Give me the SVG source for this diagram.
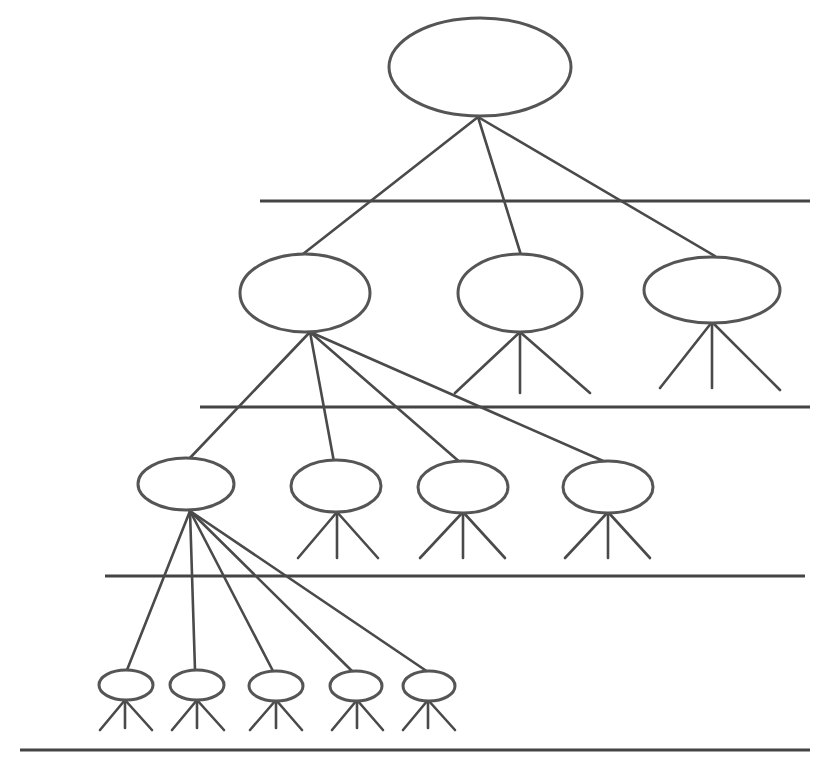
<svg xmlns="http://www.w3.org/2000/svg" width="835" height="757" viewBox="0 0 835 757">
<style>
.n{fill:#fff;stroke:#555;stroke-width:3}
.c line,.c polyline{stroke:#4a4a4a;stroke-width:2.6;fill:none;stroke-linecap:round;stroke-linejoin:round}
.lv{stroke:#444;stroke-width:3.2}
</style>
<rect width="835" height="757" fill="#fff"/>
<g id="levels">
<line class="lv" x1="260" y1="201" x2="810" y2="201"/>
<line class="lv" x1="200" y1="407" x2="810" y2="407"/>
<line class="lv" x1="105" y1="576" x2="805" y2="576"/>
<line class="lv" x1="20" y1="750" x2="810" y2="750"/>
</g>
<g class="c" id="connectors">
<line x1="478" y1="117" x2="303" y2="254"/>
<line x1="478" y1="117" x2="521" y2="255"/>
<line x1="478" y1="117" x2="715" y2="256"/>
<line x1="310" y1="332" x2="188" y2="460"/>
<line x1="310" y1="332" x2="334" y2="462"/>
<line x1="310" y1="332" x2="462" y2="464"/>
<line x1="310" y1="332" x2="610" y2="464"/>
<line x1="190" y1="511" x2="127" y2="670"/>
<line x1="190" y1="511" x2="195" y2="670"/>
<line x1="190" y1="511" x2="273" y2="671"/>
<line x1="190" y1="511" x2="353" y2="672"/>
<line x1="190" y1="511" x2="428" y2="672"/>
<polyline points="455,393 520,332 590,393"/><line x1="520" y1="332" x2="520" y2="393"/>
<polyline points="660,388 712,322 780,390"/><line x1="712" y1="322" x2="712" y2="388"/>
<polyline points="298,558 337,512 378,558"/><line x1="337" y1="512" x2="337" y2="558"/>
<polyline points="420,558 463,512 505,558"/><line x1="463" y1="512" x2="463" y2="558"/>
<polyline points="565,558 608,512 650,558"/><line x1="608" y1="512" x2="608" y2="558"/>
<polyline points="100,730 125,700 152,730"/><line x1="125" y1="700" x2="125" y2="728"/>
<polyline points="172,730 197,700 224,730"/><line x1="197" y1="700" x2="197" y2="728"/>
<polyline points="250,730 276,700 302,730"/><line x1="276" y1="700" x2="276" y2="728"/>
<polyline points="332,730 357,700 383,730"/><line x1="357" y1="700" x2="357" y2="728"/>
<polyline points="403,730 428,700 455,730"/><line x1="428" y1="700" x2="428" y2="728"/>
</g>
<g id="root"><ellipse class="n" cx="480" cy="67" rx="91" ry="49"/></g>
<g id="a1"><ellipse class="n" cx="305" cy="293" rx="65" ry="39"/></g>
<g id="a2"><ellipse class="n" cx="520" cy="293" rx="62" ry="39"/></g>
<g id="a3"><ellipse class="n" cx="712" cy="290" rx="68" ry="33"/></g>
<g id="b1"><ellipse class="n" cx="186" cy="484" rx="48" ry="26"/></g>
<g id="b2"><ellipse class="n" cx="336" cy="486" rx="45" ry="26"/></g>
<g id="b3"><ellipse class="n" cx="463" cy="487" rx="45" ry="26"/></g>
<g id="b4"><ellipse class="n" cx="608" cy="487" rx="45" ry="26"/></g>
<g id="c1"><ellipse class="n" cx="126" cy="685" rx="27" ry="15"/></g>
<g id="c2"><ellipse class="n" cx="197" cy="685" rx="27" ry="15"/></g>
<g id="c3"><ellipse class="n" cx="276" cy="686" rx="27" ry="15"/></g>
<g id="c4"><ellipse class="n" cx="356" cy="686" rx="26" ry="15"/></g>
<g id="c5"><ellipse class="n" cx="429" cy="686" rx="26" ry="15"/></g>
</svg>
